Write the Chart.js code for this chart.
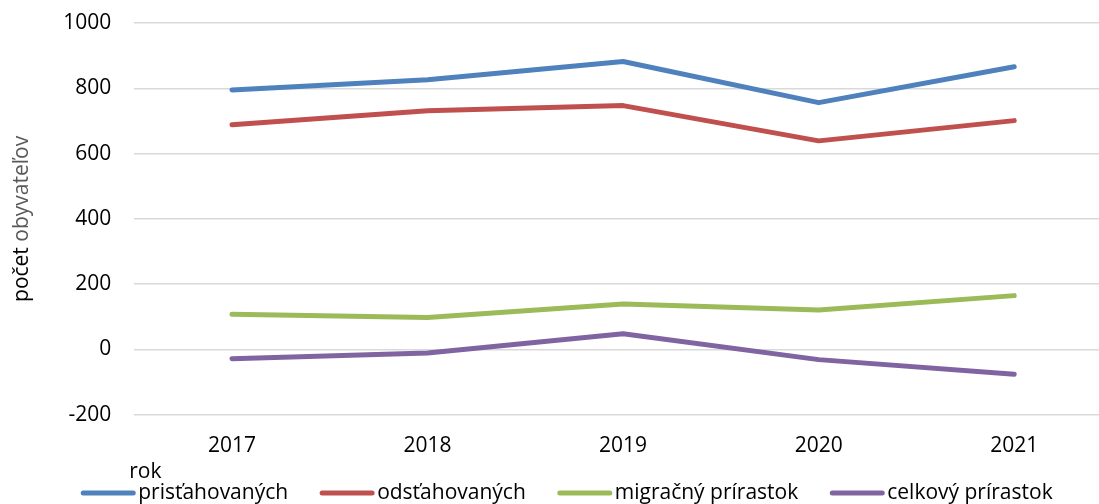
<!DOCTYPE html>
<html>
<head>
<meta charset="utf-8">
<script src="https://cdn.jsdelivr.net/npm/chart.js@4.4.0/dist/chart.umd.min.js"></script>
<style>
  html, body { margin: 0; padding: 0; background: #fff; overflow: hidden; }
  #wrap { width: 1112px; height: 504px; position: relative; }
</style>
</head>
<body>
<div id="wrap"><canvas id="chart"></canvas></div>
<script>
const years = ['2017', '2018', '2019', '2020', '2021']
const prisahovanych = [795, 826, 882, 756, 866]
const odstahovanych = [688, 731, 747, 639, 701]
const migracnyPrirastok = [108, 98, 139, 121, 165]
const celkovyPrirastok = [-28, -11, 48, -31, -76]
const yTicks = [-200, 0, 200, 400, 600, 800, 1000]

const FONT = '"Open Sans", "Noto Sans", sans-serif'

// y title in two colours + "rok" under the x labels
const titlesPlugin = {
  id: 'titles',
  afterDraw(chart) {
    const ctx = chart.ctx
    const area = chart.chartArea
    const yScale = chart.scales.y
    ctx.save()
    ctx.font = '21px ' + FONT
    const part1 = 'počet '
    const part2 = 'obyvateľov'
    const w1 = ctx.measureText(part1).width
    const w2 = ctx.measureText(part2).width
    ctx.translate(yScale.left + 22, (area.top + area.bottom) / 2)
    ctx.rotate(-Math.PI / 2)
    ctx.textBaseline = 'middle'
    ctx.textAlign = 'left'
    const start = -(w1 + w2) / 2
    ctx.fillStyle = '#000000'
    ctx.fillText(part1, start, 0)
    ctx.fillStyle = '#595959'
    ctx.fillText(part2, start + w1, 0)
    ctx.restore()

    ctx.save()
    ctx.font = '21px ' + FONT
    ctx.fillStyle = '#000000'
    ctx.textBaseline = 'alphabetic'
    ctx.textAlign = 'left'
    ctx.fillText('rok', area.left - 5, chart.height - 26)
    ctx.restore()
  }
}

const legendPlugin = {
  id: 'bottomLegend',
  afterDraw(chart) {
    const ctx = chart.ctx
    const area = chart.chartArea
    ctx.save()
    ctx.font = '21px ' + FONT
    ctx.textBaseline = 'middle'
    ctx.textAlign = 'left'
    let x = area.left - 53
    const y = chart.height - 11
    chart.data.datasets.forEach((ds) => {
      ctx.strokeStyle = ds.borderColor
      ctx.lineWidth = 5
      ctx.lineCap = 'round'
      ctx.beginPath()
      ctx.moveTo(x + 2, y)
      ctx.lineTo(x + 52, y)
      ctx.stroke()
      x += 57
      ctx.fillStyle = '#000000'
      ctx.fillText(ds.label, x, y)
      x += ctx.measureText(ds.label).width + 32
    })
    ctx.restore()
  }
}

const lineStyle = {
  borderWidth: 5,
  borderCapStyle: 'round',
  borderJoinStyle: 'round',
  pointRadius: 0,
  pointHoverRadius: 0,
  tension: 0,
  fill: false
}

new Chart(document.getElementById('chart'), {
  type: 'line',
  data: {
    labels: years,
    datasets: [
      { label: 'prisťahovaných', data: prisahovanych, borderColor: '#4F81BD', backgroundColor: '#4F81BD', ...lineStyle },
      { label: 'odsťahovaných', data: odstahovanych, borderColor: '#C0504D', backgroundColor: '#C0504D', ...lineStyle },
      { label: 'migračný prírastok', data: migracnyPrirastok, borderColor: '#9BBB59', backgroundColor: '#9BBB59', ...lineStyle },
      { label: 'celkový prírastok', data: celkovyPrirastok, borderColor: '#8064A2', backgroundColor: '#8064A2', ...lineStyle }
    ]
  },
  options: {
    responsive: true,
    maintainAspectRatio: false,
    animation: false,
    layout: {
      padding: { top: 23, right: 0, bottom: 26, left: 0 }
    },
    plugins: {
      legend: { display: false },
      tooltip: { enabled: false }
    },
    scales: {
      x: {
        offset: true,
        grid: { display: false, drawTicks: false },
        border: { display: false },
        ticks: {
          color: '#000000',
          font: { family: FONT, size: 21 },
          padding: 19
        }
      },
      y: {
        min: yTicks[0],
        max: yTicks[yTicks.length - 1],
        afterBuildTicks(scale) {
          scale.ticks = yTicks.map(v => ({ value: v }))
        },
        afterFit(scale) {
          scale.paddingTop = 0
          scale.paddingBottom = 0
        },
        grid: { color: '#d9d9d9', lineWidth: 1.5, drawTicks: false },
        border: { display: false },
        ticks: {
          color: '#000000',
          font: { family: FONT, size: 21 },
          padding: 23,
          callback: (v) => String(v)
        },
        title: {
          display: true,
          text: 'počet obyvateľov',
          color: 'transparent',
          font: { family: FONT, size: 21 },
          padding: { top: 0, bottom: 15 }
        }
      }
    }
  },
  plugins: [titlesPlugin, legendPlugin]
})
</script>
</body>
</html>
